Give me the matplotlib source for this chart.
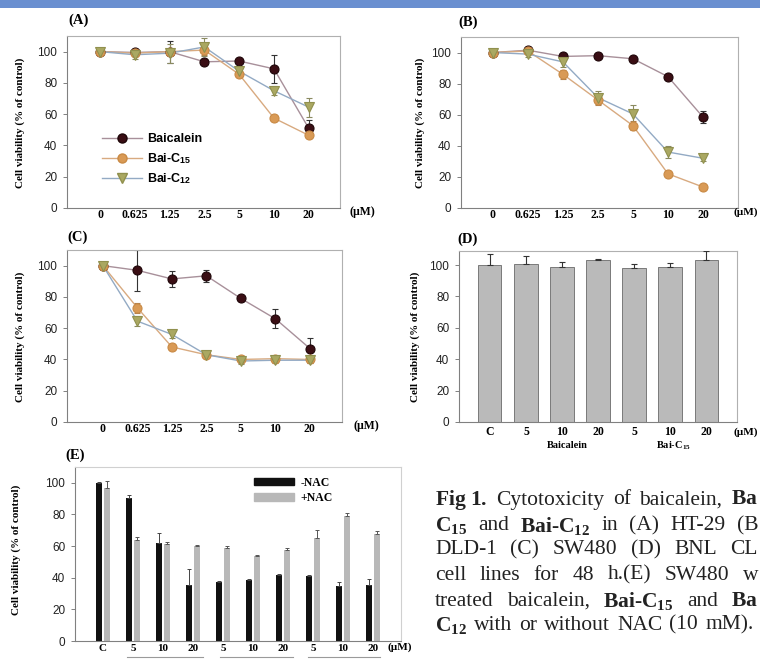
import matplotlib
matplotlib.use('Agg')
import matplotlib.pyplot as plt
from matplotlib.patches import Rectangle, Patch
from matplotlib.lines import Line2D

plt.rcParams['font.family'] = ['Liberation Sans', 'DejaVu Sans']
plt.rcParams['mathtext.fontset'] = 'custom'
plt.rcParams['mathtext.rm'] = 'Liberation Serif'
plt.rcParams['mathtext.bf'] = 'Liberation Serif:bold'
plt.rcParams['mathtext.it'] = 'Liberation Serif:italic'
plt.rcParams['mathtext.sf'] = 'Liberation Sans:bold'

W, H = 760, 661

# ---------------- data ----------------
conc_labels = ['0', '0.625', '1.25', '2.5', '5', '10', '20']
series_names = ['Baicalein', r'Bai-C$_{\mathsf{15}}$', r'Bai-C$_{\mathsf{12}}$']

A_baicalein = [100, 99.5, 100, 93.5, 94, 89, 51]
A_baicalein_err = [0.5, 2, 7, 1.5, 1.5, 9, 5]
A_c15 = [100, 99, 100, 101, 85.5, 57.5, 46.5]
A_c15_err = [0.5, 1.5, 2, 3, 2, 2, 2]
A_c12 = [100, 98, 99, 103, 87.5, 75, 64.5]
A_c12_err = [0.5, 3, 6, 6, 3, 3, 6]

B_baicalein = [100, 101.5, 97.5, 98, 96, 84.5, 58.5]
B_baicalein_err = [0.5, 2, 2, 1.5, 1.5, 2, 4]
B_c15 = [100, 101, 86, 69.5, 53, 22, 13.5]
B_c15_err = [0.5, 2, 3, 3, 3, 1.5, 1.5]
B_c12 = [100, 99, 94, 71, 60.5, 36, 32]
B_c12_err = [0.5, 2, 3, 4, 6, 4, 2]

C_baicalein = [100, 97, 91.5, 93.5, 79, 66, 47]
C_baicalein_err = [0.5, 13, 5, 4, 1.5, 6, 7]
C_c15 = [100, 73, 48, 43, 40, 40.5, 40]
C_c15_err = [0.5, 3, 2, 1.5, 2, 2, 2]
C_c12 = [100, 64.5, 56, 43, 39, 39.5, 39.5]
C_c12_err = [0.5, 3, 2, 2, 2, 2, 2]

D_labels = ['C', '5', '10', '20', '5', '10', '20']
D_values = [100, 101, 99, 103, 98, 99, 103]
D_err = [7, 5, 3, 1, 3, 2.5, 6]
D_groups = ['Baicalein', r'$\mathbf{Bai\text{-}C_{15}}$']

E_labels = ['C', '5', '10', '20', '5', '10', '20', '5', '10', '20']
E_minus = [100, 90.5, 62, 35.5, 37, 38.5, 41.5, 41, 34.5, 35.5]
E_minus_err = [0.5, 2, 6, 10, 1, 1, 1, 1, 3, 4]
E_plus = [97, 64, 61.5, 60, 59, 53.5, 57.5, 65, 79, 67.5]
E_plus_err = [4, 2, 1, 1, 1, 1, 1, 5, 2, 2]
E_legend = ['-NAC', '+NAC']

yticks = [0, 20, 40, 60, 80, 100]
ylabel = 'Cell viability (% of control)'

caption_lines = [
    [r'$\mathbf{Fig\ 1.}$', 'Cytotoxicity', 'of', 'baicalein,', r'$\mathbf{Ba}$'],
    [r'$\mathbf{C_{15}}$', 'and', r'$\mathbf{Bai\text{-}C_{12}}$', 'in', '(A)', 'HT-29', '(B'],
    ['DLD-1', '(C)', 'SW480', '(D)', 'BNL', 'CL'],
    ['cell', 'lines', 'for', '48', 'h.(E)', 'SW480', 'w'],
    ['treated', 'baicalein,', r'$\mathbf{Bai\text{-}C_{15}}$', 'and', r'$\mathbf{Ba}$'],
    [r'$\mathbf{C_{12}}$', 'with', 'or', 'without', 'NAC', '(10', 'mM).'],
]

# ---------------- style ----------------
marker_face = ['#3a0e14', '#d99a55', '#aaa862']
marker_edge = ['#1e0508', '#c98a45', '#90904e']
marker_shape = ['o', 'o', 'v']
line_cols = ['#a8909a', '#d8aa80', '#93aac4']
err_cols = ['#333333', '#b08050', '#8a8a60']
spine_col = '#808080'
serif = 'Liberation Serif'

fig = plt.figure(figsize=(W / 100, H / 100), dpi=100)
fig.patch.set_facecolor('white')

# top blue band
fig.patches.append(Rectangle((0, 1 - 8 / H), 1, 8 / H, transform=fig.transFigure,
                             facecolor='#6a8fd0', edgecolor='none', zorder=0))


def add_ax(l, t, r, b):
    return fig.add_axes([l / W, 1 - b / H, (r - l) / W, (b - t) / H])


def ftext(x, y, s, **kw):
    return fig.text(x / W, 1 - y / H, s, **kw)


def style_axes(ax, ylim, xlim):
    ax.set_ylim(*ylim)
    ax.set_xlim(*xlim)
    for sp in ax.spines.values():
        sp.set_color(spine_col)
        sp.set_linewidth(0.8)
    ax.spines['top'].set_color('#b0b0b0')
    ax.spines['right'].set_color('#b0b0b0')
    ax.set_yticks(yticks)
    ax.set_yticklabels([str(v) for v in yticks], fontsize=8.5, color='#222222')
    ax.tick_params(axis='y', length=3, width=0.7, color=spine_col, pad=4)
    ax.tick_params(axis='x', length=0, pad=1)


def line_panel(ax, data, errs, xlim):
    xs = list(range(len(conc_labels)))
    for i, (ys, es) in enumerate(zip(data, errs)):
        ax.plot(xs, ys, color=line_cols[i], lw=1.0, zorder=2)
        ax.errorbar(xs, ys, yerr=es, fmt='none', ecolor=err_cols[i], elinewidth=0.8,
                    capsize=2, capthick=0.8, zorder=2.5)
        ax.plot(xs, ys, ls='none', marker=marker_shape[i], ms=6.5,
                mfc=marker_face[i], mec=marker_edge[i], mew=0.8, zorder=3 + i * 0.1,
                label=series_names[i])
    style_axes(ax, (0, 110), xlim)
    ax.set_xticks(xs)
    ax.set_xticklabels(conc_labels, fontsize=8.5, fontfamily=serif, fontweight='bold')


# Panel A
axA = add_ax(67, 36, 340, 208)
line_panel(axA, [A_baicalein, A_c15, A_c12], [A_baicalein_err, A_c15_err, A_c12_err], (-0.95, 6.9))
handles = [Line2D([0], [0], color=line_cols[i], lw=1.0, marker=marker_shape[i], ms=6.5,
                  mfc=marker_face[i], mec=marker_edge[i]) for i in range(3)]
axA.legend(handles, series_names, loc='upper left', bbox_to_anchor=(91 / W, 1 - 122 / H),
           bbox_transform=fig.transFigure, frameon=False, handlelength=3.2,
           handletextpad=0.4, labelspacing=0.45, prop={'weight': 'bold', 'size': 9})
ftext(68, 20, '(A)', fontsize=10.5, fontfamily=serif, fontweight='bold', va='center')
ftext(350, 212, '(µM)', fontsize=8.5, fontfamily=serif, fontweight='bold', va='center')
ftext(20, 123, ylabel, rotation=90, fontsize=8, fontfamily=serif, fontweight='bold',
      ha='center', va='center')

# Panel B
axB = add_ax(461, 37, 738, 208)
line_panel(axB, [B_baicalein, B_c15, B_c12], [B_baicalein_err, B_c15_err, B_c12_err], (-0.91, 7.0))
ftext(458, 22, '(B)', fontsize=10.5, fontfamily=serif, fontweight='bold', va='center')
ftext(733, 212, '(µM)', fontsize=8, fontfamily=serif, fontweight='bold', va='center')
ftext(420, 123, ylabel, rotation=90, fontsize=8, fontfamily=serif, fontweight='bold',
      ha='center', va='center')

# Panel C
axC = add_ax(67, 250, 342, 422)
line_panel(axC, [C_baicalein, C_c15, C_c12], [C_baicalein_err, C_c15_err, C_c12_err], (-1.04, 6.93))
ftext(67, 237, '(C)', fontsize=10.5, fontfamily=serif, fontweight='bold', va='center')
ftext(353, 426, '(µM)', fontsize=8.5, fontfamily=serif, fontweight='bold', va='center')
ftext(20, 337, ylabel, rotation=90, fontsize=8, fontfamily=serif, fontweight='bold',
      ha='center', va='center')

# Panel D
axD = add_ax(459, 251, 737, 422)
xd = list(range(len(D_labels)))
axD.bar(xd, D_values, width=0.64, color='#bababa', edgecolor='#6a6a6a', linewidth=0.6, zorder=2)
axD.errorbar(xd, D_values, yerr=[[0] * len(D_err), D_err], fmt='none', ecolor='#333333',
             elinewidth=0.8, capsize=2, capthick=0.8, zorder=3)
style_axes(axD, (0, 109), (-0.86, 6.86))
axD.set_xticks(xd)
axD.set_xticklabels(D_labels, fontsize=8.5, fontfamily=serif, fontweight='bold')
axD.tick_params(axis='x', pad=3)
ftext(457, 239, '(D)', fontsize=10.5, fontfamily=serif, fontweight='bold', va='center')
ftext(733, 432, '(µM)', fontsize=8, fontfamily=serif, fontweight='bold', va='center')
ftext(415, 337, ylabel, rotation=90, fontsize=8, fontfamily=serif, fontweight='bold',
      ha='center', va='center')
ftext(567, 446, D_groups[0], fontsize=7.5, fontfamily=serif, fontweight='bold', ha='center', va='center')
ftext(673, 446, D_groups[1], fontsize=7.5, fontfamily=serif, fontweight='bold', ha='center', va='center')

# Panel E
axE = add_ax(75, 467, 401, 641)
xe = list(range(len(E_labels)))
bw = 0.2
axE.bar([x - 0.13 for x in xe], E_minus, width=bw, color='#111111', edgecolor='none', zorder=2)
axE.bar([x + 0.13 for x in xe], E_plus, width=bw, color='#b8b8b8', edgecolor='none', zorder=2)
axE.errorbar([x - 0.13 for x in xe], E_minus, yerr=[[0] * len(E_minus_err), E_minus_err],
             fmt='none', ecolor='#444444', elinewidth=0.7, capsize=1.5, capthick=0.7, zorder=3)
axE.errorbar([x + 0.13 for x in xe], E_plus, yerr=[[0] * len(E_plus_err), E_plus_err],
             fmt='none', ecolor='#555555', elinewidth=0.7, capsize=1.5, capthick=0.7, zorder=3)
style_axes(axE, (0, 110), (-0.93, 9.93))
axE.spines['top'].set_color('#d0d0d0')
axE.spines['right'].set_color('#d0d0d0')
axE.set_xticks(xe)
axE.set_xticklabels(E_labels, fontsize=8, fontfamily=serif, fontweight='bold')
axE.tick_params(axis='x', pad=2)
axE.legend([Patch(color='#111111'), Patch(color='#b8b8b8')], E_legend, loc='upper left',
           bbox_to_anchor=(243 / W, 1 - 466 / H), bbox_transform=fig.transFigure,
           frameon=False, handlelength=3.4, handleheight=0.6, handletextpad=0.6,
           labelspacing=0.3, prop={'family': serif, 'weight': 'bold', 'size': 8.5})
ftext(65, 455, '(E)', fontsize=10.5, fontfamily=serif, fontweight='bold', va='center')
ftext(388, 647, '(µM)', fontsize=8, fontfamily=serif, fontweight='bold', va='center')
ftext(16, 550, ylabel, rotation=90, fontsize=8, fontfamily=serif, fontweight='bold',
      ha='center', va='center')
for (x0, x1) in [(127, 203), (220, 293), (308, 380)]:
    fig.add_artist(Line2D([x0 / W, x1 / W], [1 - 657 / H, 1 - 657 / H], color='#9a9a9a', lw=0.8))

# Caption, justified word by word (right edge cut off as in the reference)
renderer = fig.canvas.get_renderer()
cap_y = [500, 526, 550, 575, 601, 625]
cap_left = 435
cap_right = [758, 758, 758, 758, 758, None]
for words, y, right in zip(caption_lines, cap_y, cap_right):
    objs = [ftext(0, y, w, fontsize=15.5, fontfamily=serif, va='center', color='#222222')
            for w in words]
    widths = [o.get_window_extent(renderer).width for o in objs]
    if right is None:
        gap = 7.0
    else:
        gap = (right - cap_left - sum(widths)) / (len(words) - 1)
    x = cap_left
    for o, wdt in zip(objs, widths):
        o.set_x(x / W)
        x += wdt + gap

fig.savefig('out.png', dpi=100)
